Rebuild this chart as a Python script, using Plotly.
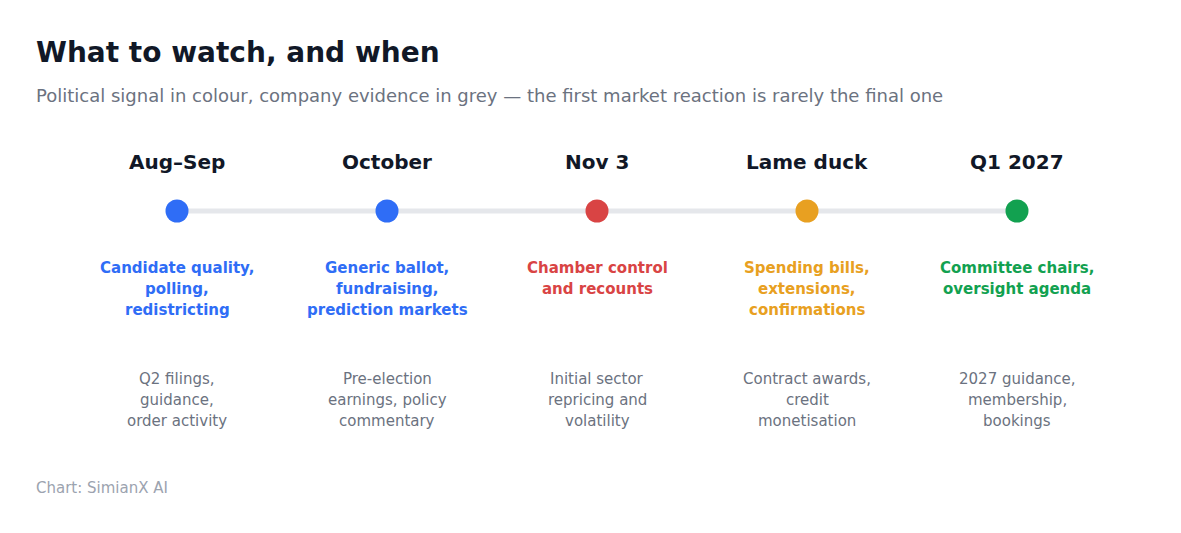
import plotly.graph_objects as go

W, H = 1181, 533

periods = ["Aug–Sep", "October", "Nov 3", "Lame duck", "Q1 2027"]
signals = [
    "Candidate quality,<br>polling,<br>redistricting",
    "Generic ballot,<br>fundraising,<br>prediction markets",
    "Chamber control<br>and recounts",
    "Spending bills,<br>extensions,<br>confirmations",
    "Committee chairs,<br>oversight agenda",
]
evidence = [
    "Q2 filings,<br>guidance,<br>order activity",
    "Pre-election<br>earnings, policy<br>commentary",
    "Initial sector<br>repricing and<br>volatility",
    "Contract awards,<br>credit<br>monetisation",
    "2027 guidance,<br>membership,<br>bookings",
]
colors = ["#2f6df6", "#2f6df6", "#d94444", "#e8a021", "#12a150"]

idx = list(range(len(periods)))

# layout in pixels
x0, step = 177, 210
line_y = 211
line_gap = 21
left = 34 / W
font = "DejaVu Sans, sans-serif"

fig = go.Figure()
fig.add_trace(go.Scatter(x=idx, y=[line_y] * len(idx), mode="lines",
                         line=dict(color="#e5e7eb", width=5),
                         hoverinfo="skip"))
fig.add_trace(go.Scatter(x=idx, y=[line_y] * len(idx), mode="markers",
                         marker=dict(color=colors, size=23, line=dict(width=0)),
                         hovertext=periods, hoverinfo="text"))


def add_block(i, text, y_first, bold, color):
    for k, part in enumerate(text.split("<br>")):
        fig.add_annotation(x=i, y=y_first + k * line_gap,
                           text=f"<b>{part}</b>" if bold else part,
                           showarrow=False, xanchor="center", yanchor="middle",
                           font=dict(family=font, size=15, color=color))


for i in idx:
    fig.add_annotation(x=i, y=162, text=f"<b>{periods[i]}</b>", showarrow=False,
                       xanchor="center", yanchor="middle",
                       font=dict(family=font, size=20, color="#111827"))
    add_block(i, signals[i], 268, True, colors[i])
    add_block(i, evidence[i], 379, False, "#6b7280")

fig.add_annotation(xref="paper", x=left, y=52, text="<b>What to watch, and when</b>",
                   showarrow=False, xanchor="left", yanchor="middle",
                   font=dict(family=font, size=28, color="#111827"))
fig.add_annotation(xref="paper", x=left, y=95,
                   text="Political signal in colour, company evidence in grey — the first market reaction is rarely the final one",
                   showarrow=False, xanchor="left", yanchor="middle",
                   font=dict(family=font, size=18, color="#6b7280"))
fig.add_annotation(xref="paper", x=left, y=488, text="Chart: SimianX AI",
                   showarrow=False, xanchor="left", yanchor="middle",
                   font=dict(family=font, size=15, color="#9ca3af"))

fig.update_layout(
    width=W, height=H,
    margin=dict(l=0, r=0, t=0, b=0),
    paper_bgcolor="white", plot_bgcolor="white",
    showlegend=False,
    xaxis=dict(range=[-x0 / step, (W - x0) / step], visible=False, fixedrange=True),
    yaxis=dict(range=[H, 0], visible=False, fixedrange=True),
)

fig.write_html("out.html", config={"displayModeBar": False},
               post_script="document.body.style.margin='0';")
